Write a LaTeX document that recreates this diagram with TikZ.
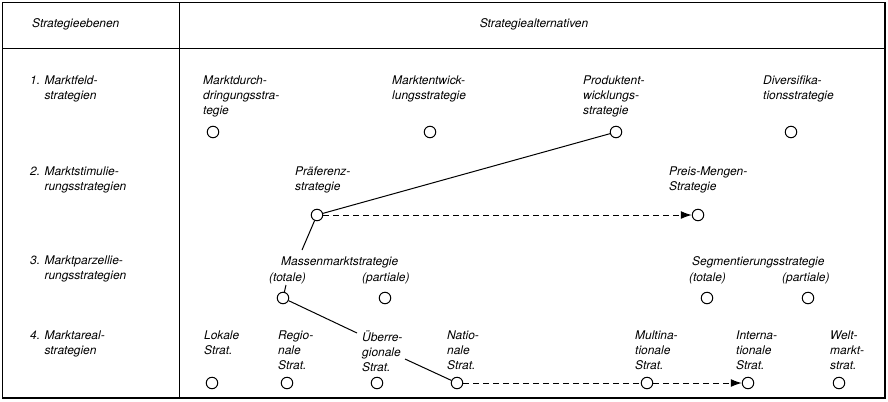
\documentclass[tikz,border=0pt]{standalone}
\usepackage{fontspec}
\setmainfont{TeX Gyre Heros}
\usetikzlibrary{arrows.meta,positioning,calc}

\begin{document}
\begin{tikzpicture}[x=1bp, y=-1bp,
    frame/.style={line width=1.6bp},
    divider/.style={line width=1.2bp},
    alt/.style={circle, draw, line width=1bp, minimum size=11.5bp, inner sep=0pt},
    txt/.style={anchor=north west, inner sep=0pt, align=left, font=\fontsize{12}{15.3}\selectfont\itshape, execute at begin node=\strut},
    link/.style={line width=1bp},
    flow/.style={line width=1bp, dash pattern=on 6bp off 4bp}
]
    \useasboundingbox (0,0) rectangle (888,401);

    % Table frame
    \draw[frame] (2.5,2.5) rectangle (885,398);
    \draw[divider] (179.5,2.5) -- (179.5,398);
    \draw[divider] (2.5,48.5) -- (885,48.5);

    % Header
    \node[txt] (hlevels) at (32,16.3) {Strategieebenen};
    \node[txt, anchor=north] (halts) at (534,16.3) {Strategiealternativen};

    % Strategy levels
    \node[txt] (lev1) at (30,75.3) {1. Marktfeld-\\\phantom{1. }strategien};
    \node[txt] (lev2) at (30,166.3) {2. Marktstimulie-\\\phantom{2. }rungsstrategien};
    \node[txt] (lev3) at (30,255.3) {3. Marktparzellie-\\\phantom{3. }rungsstrategien};
    \node[txt] (lev4) at (30,330.3) {4. Marktareal-\\\phantom{4. }strategien};

    % Level 1
    \node[txt] (t11) at (203,75.3) {Marktdurch-\\dringungsstra-\\tegie};
    \node[alt] (a11) at (213,132) {};
    \node[txt] (t12) at (392,75.3) {Marktentwick-\\lungsstrategie};
    \node[alt] (a12) at (430,132) {};
    \node[txt] (t13) at (583,75.3) {Produktent-\\wicklungs-\\strategie};
    \node[alt] (a13) at (616,132) {};
    \node[txt] (t14) at (763,75.3) {Diversifika-\\tionsstrategie};
    \node[alt] (a14) at (791,132) {};

    % Level 2
    \node[txt] (t21) at (295,166.3) {Präferenz-\\strategie};
    \node[alt] (a21) at (317,215) {};
    \node[txt] (t22) at (669,166.3) {Preis-Mengen-\\Strategie};
    \node[alt] (a22) at (698,215) {};

    % Level 3
    \node[txt] (t31) at (281,255) {Massenmarktstrategie};
    \node[txt] (t31a) at (269,270.3) {(totale)};
    \node[txt] (t31b) at (362,270.3) {(partiale)};
    \node[alt] (a31) at (283,298) {};
    \node[alt] (a32) at (385,298) {};
    \node[txt] (t32) at (692,255) {Segmentierungsstrategie};
    \node[txt] (t32a) at (689,270.3) {(totale)};
    \node[txt] (t32b) at (782,270.3) {(partiale)};
    \node[alt] (a33) at (707,298) {};
    \node[alt] (a34) at (808,298) {};

    % Level 4
    \node[txt] (t41) at (204,330.3) {Lokale\\Strat.};
    \node[alt] (a41) at (212,383) {};
    \node[txt] (t42) at (278,330.3) {Regio-\\nale\\Strat.};
    \node[alt] (a42) at (287,383) {};
    \node[txt] (t43) at (362,330.3) {Überre-\\gionale\\Strat.};
    \node[alt] (a43) at (377,383) {};
    \node[txt] (t44) at (447,330.3) {Natio-\\nale\\Strat.};
    \node[alt] (a44) at (457,383) {};
    \node[txt] (t45) at (635,330.3) {Multina-\\tionale\\Strat.};
    \node[alt] (a45) at (647,383) {};
    \node[txt] (t46) at (736,330.3) {Interna-\\tionale\\Strat.};
    \node[alt] (a46) at (748,383) {};
    \node[txt] (t47) at (830,330.3) {Welt-\\markt-\\strat.};
    \node[alt] (a47) at (839,383) {};

    % Free ends at the labels
    \coordinate (massin) at (302,250);
    \coordinate (totout) at (286,285);
    \coordinate (ueberin) at (357,333);
    \coordinate (ueberout) at (405,359);

    % Strategy path
    \draw[link] (a21) -- (a13);
    \draw[link] (a21) -- (massin);
    \draw[link] (totout) -- (a31);
    \draw[link] (a31) -- (ueberin);
    \draw[link] (ueberout) -- (a44);
    \draw[flow, -{Latex[length=11bp, width=8bp]}] (a21) -- (a22);
    \draw[flow] (a44) -- (a45);
    \draw[flow, -{Latex[length=11bp, width=8bp]}] (a45) -- (a46);
\end{tikzpicture}
\end{document}
